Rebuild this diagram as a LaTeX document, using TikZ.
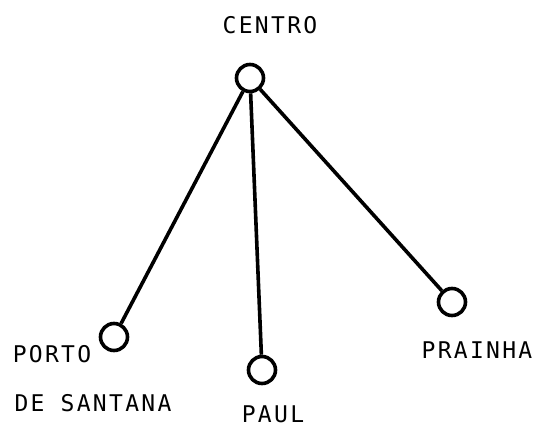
\documentclass[tikz,border=0pt]{standalone}
\usepackage{fontspec}
\newfontfamily\labfont[LetterSpace=10]{DejaVu Sans Mono}
\begin{document}
\begin{tikzpicture}[x=1pt,y=-1pt,
  place/.style={circle,draw=black,line width=3.6pt,minimum size=27pt,inner sep=0pt},
  lab/.style={font=\labfont\fontsize{23}{27}\selectfont,inner sep=0pt,anchor=center},
  link/.style={line width=3.6pt}]
\useasboundingbox (0,0) rectangle (536,429);
\node[place] (centro) at (250,78) {};
\node[place] (porto) at (114,337) {};
\node[place] (paul) at (262,370) {};
\node[place] (prainha) at (452,302) {};
\draw[link] (centro) -- (porto);
\draw[link] (centro) -- (paul);
\draw[link] (centro) -- (prainha);
\node[lab] (tcentro) at (270,25) {CENTRO};
\node[lab] (tporto) at (52,354) {PORTO};
\node[lab] (tsantana) at (93,403) {DE SANTANA};
\node[lab] (tpaul) at (273,414) {PAUL};
\node[lab] (tprainha) at (477,350) {PRAINHA};
\end{tikzpicture}
\end{document}
